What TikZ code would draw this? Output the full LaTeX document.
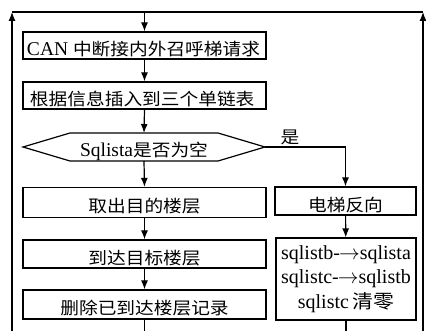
\documentclass[tikz,border=0pt]{standalone}
\usepackage{fontspec}
\setmainfont{Liberation Serif}
\newfontfamily\cjk[FakeStretch=1.1]{Noto Sans CJK SC}
\usetikzlibrary{arrows.meta}
\newcommand{\zh}[1]{{\fontsize{17}{20}\selectfont\cjk #1}}
\newcommand{\zhb}[1]{{\fontsize{19}{25}\selectfont\cjk #1}}
\begin{document}
\begin{tikzpicture}[x=1pt,y=-1pt,
  line width=1.2pt,
  arr/.style={-{Latex[length=9pt,width=7pt]}},
  box/.style={draw, inner xsep=0pt, inner ysep=0pt, text height=21pt, text depth=0pt,
    font=\fontsize{19.5}{23}\selectfont},
  lbl/.style={inner sep=0pt, font=\fontsize{19.5}{23}\selectfont}]
\useasboundingbox (0,0) rectangle (426,331);
% outer frame coordinates
\coordinate (tl) at (12,12);
\coordinate (tr) at (423,12);
\coordinate (bl) at (12,331);
\coordinate (br) at (423,331);
% main boxes
\node[box, minimum width=243pt, minimum height=27pt] (b1) at (144.5,45.5)
  {\makebox[235pt][l]{CAN \zh{中断接内外召呼梯请求}}};
\node[box, minimum width=243pt, minimum height=27pt] (b2) at (144.5,95.5)
  {\makebox[235pt][l]{\hspace{3pt}\zh{根据信息插入到三个单链表}}};
% decision
\coordinate (dt) at (144,133);
\coordinate (db) at (144,161);
\coordinate (dl) at (23,147);
\coordinate (dr) at (265,147);
\draw (dl) -- (70,133) -- (218,133) -- (dr) -- (218,161) -- (70,161) -- cycle;
\node[lbl, anchor=base] (dtext) at (144,157) {Sqlista\zh{是否为空}};
\node[box, minimum width=243pt, minimum height=30pt] (b3) at (144.5,202.5) {\zh{取出目的楼层}};
\node[box, minimum width=243pt, minimum height=28pt] (b4) at (144.5,254) {\zh{到达目标楼层}};
\node[box, minimum width=243pt, minimum height=29pt] (b5) at (144.5,304.5) {\zh{删除已到达楼层记录}};
% right column
\node[box, minimum width=141pt, minimum height=28pt] (r1) at (345.5,201) {\zh{电梯反向}};
\node[draw, minimum width=140pt, minimum height=82pt, inner sep=0pt, align=center,
  font=\fontsize{20}{24.5}\selectfont] (r2) at (346,279)
  {sqlistb-\kern-1pt$\rightarrow$sqlista\\ sqlistc-\kern-1pt$\rightarrow$sqlistb\\ sqlistc\,\zhb{清零}};
\node[inner sep=0pt, anchor=base] (yes) at (290,144) {\zh{是}};
% connectors
\draw[arr] (bl) -- (tl);
\draw (tl) -- (tr);
\draw[arr] (br) -- (tr);
\coordinate (tc) at (b1.north |- tl);
\draw[arr] (tc) -- (b1.north);
\draw[arr] (b1) -- (b2);
\draw[arr] (b2.south) -- (dt);
\draw[arr] (db) -- (b3.north);
\draw[arr] (b3) -- (b4);
\draw[arr] (b4) -- (b5);
\coordinate (b5end) at (b5.south |- bl);
\draw (b5.south) -- (b5end);
\coordinate (yc) at (r1.north |- dr);
\draw (dr) -- (yc);
\draw[arr] (yc) -- (r1.north);
\draw[arr] (r1) -- (r2);
\coordinate (r2end) at (r2.south |- br);
\draw (r2.south) -- (r2end);
\end{tikzpicture}
\end{document}
